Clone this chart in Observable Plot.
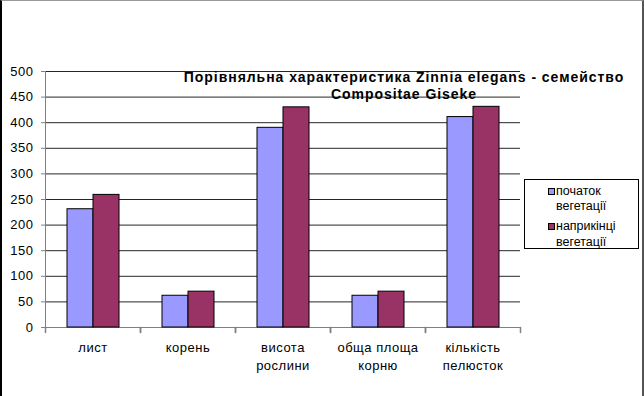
<!DOCTYPE html>
<html>
<head>
<meta charset="utf-8">
<script src="https://cdn.jsdelivr.net/npm/d3@7"></script>
<script src="https://cdn.jsdelivr.net/npm/@observablehq/plot@0.6"></script>
<style>
  html, body { margin: 0; padding: 0; background: #fff; }
  #wrap { position: relative; width: 644px; height: 396px; overflow: hidden; font-family: "Liberation Sans", Arial, sans-serif; color: #000; }
  #chart svg { display: block; }
  #border { position: absolute; left: 0; top: 0; width: 640px; height: 396px; border-left: 2px solid #000; border-top: 1px solid #999; border-right: 2px solid #555; pointer-events: none; box-sizing: content-box; }
  #title { position: absolute; left: 164px; top: 69px; width: 480px; text-align: center; font-weight: bold; font-size: 14px; letter-spacing: 0.95px; line-height: 17.3px; }
  #legend { position: absolute; left: 524px; top: 179px; width: 113px; height: 68px; border: 1px solid #000; font-size: 12.5px; line-height: 15.5px; }
  .item { position: absolute; left: 31px; }
  .sw { position: absolute; left: -8px; top: 4px; width: 5px; height: 5px; border: 1px solid #000; }
  #chart svg text { letter-spacing: 0.5px; }
</style>
</head>
<body>
<div id="wrap">
  <div id="chart"></div>
  <div id="title"></div>
  <div id="legend"></div>
  <div id="border"></div>
</div>
<script>
const titleLines = ["Порівняльна характеристика Zinnia elegans - семейство", "Compositae Giseke"];
const categories = ["лист", "корень", "висота\nрослини", "обща площа\nкорню", "кількість\nпелюсток"];
const seriesNames = ["початок\nвегетації", "наприкінці\nвегетації"];
const seriesColors = ["#9999FF", "#993366"];
const startValues = [231, 62, 390, 62, 411];
const endValues = [259, 70, 430, 70, 431];
const yTicks = [0, 50, 100, 150, 200, 250, 300, 350, 400, 450, 500];

const data = [];
categories.forEach((c, i) => {
  data.push({category: c, series: seriesNames[0], value: startValues[i]});
  data.push({category: c, series: seriesNames[1], value: endValues[i]});
});

const lineShape = {draw(context, l) { context.moveTo(0, 0); context.lineTo(0, l); }};

const chart = Plot.plot({
  width: 644,
  height: 396,
  marginLeft: 45,
  marginRight: 124,
  marginTop: 71,
  marginBottom: 69,
  style: {fontFamily: "'Liberation Sans', Arial, sans-serif", fontSize: "13px", color: "#000", background: "transparent"},
  fx: {domain: categories, padding: 0, label: null},
  x: {domain: seriesNames, paddingInner: 0, paddingOuter: 0.76, axis: null},
  y: {domain: [0, 500], label: null},
  color: {domain: seriesNames, range: seriesColors},
  marks: [
    Plot.gridY(yTicks, {stroke: "#000", strokeOpacity: 0.85}),
    Plot.ruleY([0], {stroke: "#808080", strokeOpacity: 1}),
    Plot.frame({anchor: "left", facetAnchor: "left", stroke: "#808080"}),
    Plot.vector([0], {frameAnchor: "bottom-left", length: 5, anchor: "start", shape: lineShape, stroke: "#808080"}),
    Plot.vector([0], {frameAnchor: "bottom-right", length: 5, anchor: "start", shape: lineShape, stroke: "#808080"}),
    Plot.barY(data, {fx: "category", x: "series", y: "value", fill: "series", stroke: "#000", strokeWidth: 1}),
    Plot.axisY({ticks: yTicks, tickSize: 4, tickPadding: 8, stroke: "#808080", fontSize: 13, label: null, fill: "#000"}),
    Plot.axisFx({anchor: "bottom", tickSize: 0, tickPadding: 12, fontSize: 13, lineHeight: 1.36, label: null, fill: "#000"})
  ]
});
document.getElementById("chart").appendChild(chart);

document.getElementById("title").innerHTML = titleLines.join("<br>");

const legend = document.getElementById("legend");
seriesNames.forEach((s, i) => {
  const item = document.createElement("div");
  item.className = "item";
  item.style.top = (3.5 + i * 35.5) + "px";
  const sw = document.createElement("div");
  sw.className = "sw";
  sw.style.background = seriesColors[i];
  item.appendChild(sw);
  const t = document.createElement("div");
  t.innerHTML = s.split("\n").join("<br>");
  item.appendChild(t);
  legend.appendChild(item);
});
</script>
</body>
</html>
